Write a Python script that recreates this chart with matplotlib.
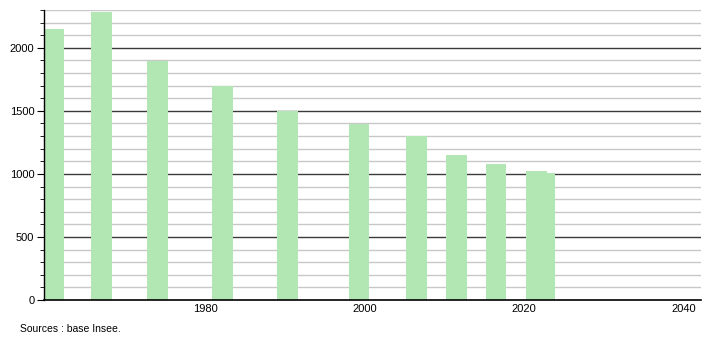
import numpy as np
import matplotlib
matplotlib.use("Agg")
import matplotlib.pyplot as plt

# positions of the bars (census years)
years = [1961, 1967, 1974, 1982.2, 1990.3, 1999.3, 2006.5, 2011.5, 2016.5, 2021.6, 2022.6]
population = [2146, 2281, 1894, 1696, 1497, 1396, 1304, 1147, 1081, 1020, 1007]

x_ticks = [1980, 2000, 2020, 2040]
y_ticks = [0, 500, 1000, 1500, 2000]

plt.rcParams['font.family'] = ['Liberation Sans', 'DejaVu Sans']

fig = plt.figure(figsize=(7.1, 3.4), dpi=100)
ax = fig.add_axes([44 / 710, 40 / 340, (701 - 44) / 710, 290 / 340])

# grid: light every 100, dark every 500
for v in range(100, 2301, 100):
    if v % 500 == 0:
        ax.axhline(v, color='#3a3a3a', lw=1.0, zorder=1)
    else:
        ax.axhline(v, color='#c8c8c8', lw=1.0, zorder=1)

ax.bar(years, population, width=2.6, color='#b2e6b2', zorder=2)

ax.set_xlim(1959.8, 2042.2)
ax.set_ylim(0, 2300)

ax.set_xticks(x_ticks)
ax.set_yticks(y_ticks)
ax.set_yticks(np.arange(0, 2301, 100), minor=True)
ax.tick_params(axis='x', length=0, labelsize=8, pad=3)
ax.tick_params(axis='y', which='major', length=5, labelsize=8, pad=2)
ax.tick_params(axis='y', which='minor', length=3)

for s in ['top', 'right']:
    ax.spines[s].set_visible(False)
ax.spines['left'].set_linewidth(1.0)
ax.spines['bottom'].set_linewidth(1.2)

fig.text(20 / 710, 1 - 329 / 340, 'Sources : base Insee.', fontsize=7.5, va='center')

plt.savefig("out.png", dpi=100)
